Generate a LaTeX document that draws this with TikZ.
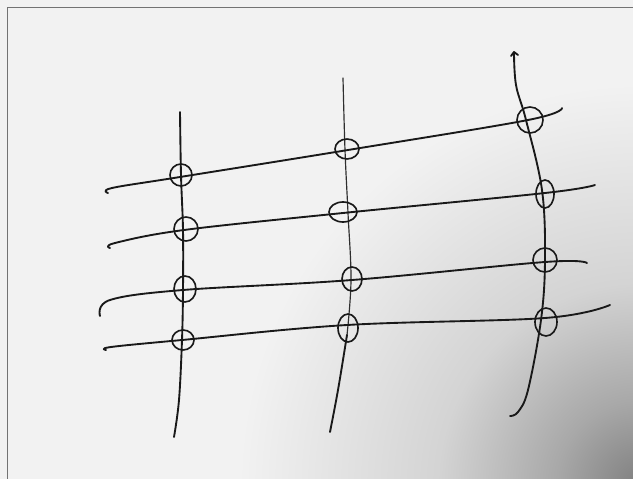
\documentclass[tikz,border=0pt]{standalone}
\usetikzlibrary{shadings}
\pgfdeclareradialshading{cornershade}{\pgfpoint{0bp}{0bp}}{color(0bp)=(black!50); color(5bp)=(black!34); color(12bp)=(black!17); color(24bp)=(white!95!black); color(50bp)=(white!95!black)}
\begin{document}
\begin{tikzpicture}[x=0.03cm,y=-0.03cm,
  pen/.style={line width=1.6pt,line cap=round,line join=round,draw=black!90},
  thinpen/.style={line width=1.0pt,line cap=round,draw=black!82},
  knot/.style={line width=1.4pt,draw=black!90}]
\useasboundingbox (0,0) rectangle (633,479);
\fill[white!95!black] (0,0) rectangle (633,479);
\begin{scope}
\clip (0,0) rectangle (633,479);
\shade[shading=cornershade] (640,485) circle (420);
\end{scope}
\draw[black!55,line width=0.8pt] (7.5,479) -- (7.5,7.5) -- (633,7.5);
% vertical strokes
\draw[pen] plot[smooth,tension=0.6] coordinates {(180,112) (181,175) (183,230) (183,290) (182,340) (179,400) (174,437)};
\draw[thinpen] plot[smooth,tension=0.6] coordinates {(343,78) (345,150) (348,213) (351,280) (347,335)};
\draw[pen] plot[smooth,tension=0.6] coordinates {(347,335) (338,390) (330,432)};
\draw[pen] plot[smooth,tension=0.6] coordinates {(514,52) (516,85) (526,120) (542,190) (545,260) (541,320) (528,390) (518,412) (510,416)};
\draw[pen] (514,52) -- (511,56) (514,52) -- (518,55);
% horizontal strokes
\draw[pen] plot[smooth,tension=0.6] coordinates {(108,193) (112,188) (180,177) (348,150) (528,120) (562,108)};
\draw[pen] plot[smooth,tension=0.6] coordinates {(110,248) (115,243) (184,230) (343,213) (545,193) (595,185)};
\draw[pen] plot[smooth,tension=0.6] coordinates {(100,316) (110,300) (183,290) (352,280) (545,262) (587,263)};
\draw[pen] plot[smooth,tension=0.6] coordinates {(106,350) (111,347) (182,340) (347,325) (545,318) (610,305)};
% intersection loops
\draw[knot] (181,175) ellipse (11 and 11);
\draw[knot] (186,229) ellipse (12 and 12);
\draw[knot] (185,289) ellipse (11 and 13);
\draw[knot] (183,340) ellipse (11 and 10);
\draw[knot] (347,149) ellipse (12 and 10);
\draw[knot] (343,212) ellipse (14 and 10);
\draw[knot] (352,279) ellipse (10 and 12);
\draw[knot] (348,328) ellipse (10 and 14);
\draw[knot] (530,120) ellipse (13 and 13);
\draw[knot] (545,194) ellipse (9 and 14);
\draw[knot] (545,260) ellipse (12 and 12);
\draw[knot] (546,322) ellipse (11 and 14);
\end{tikzpicture}
\end{document}
